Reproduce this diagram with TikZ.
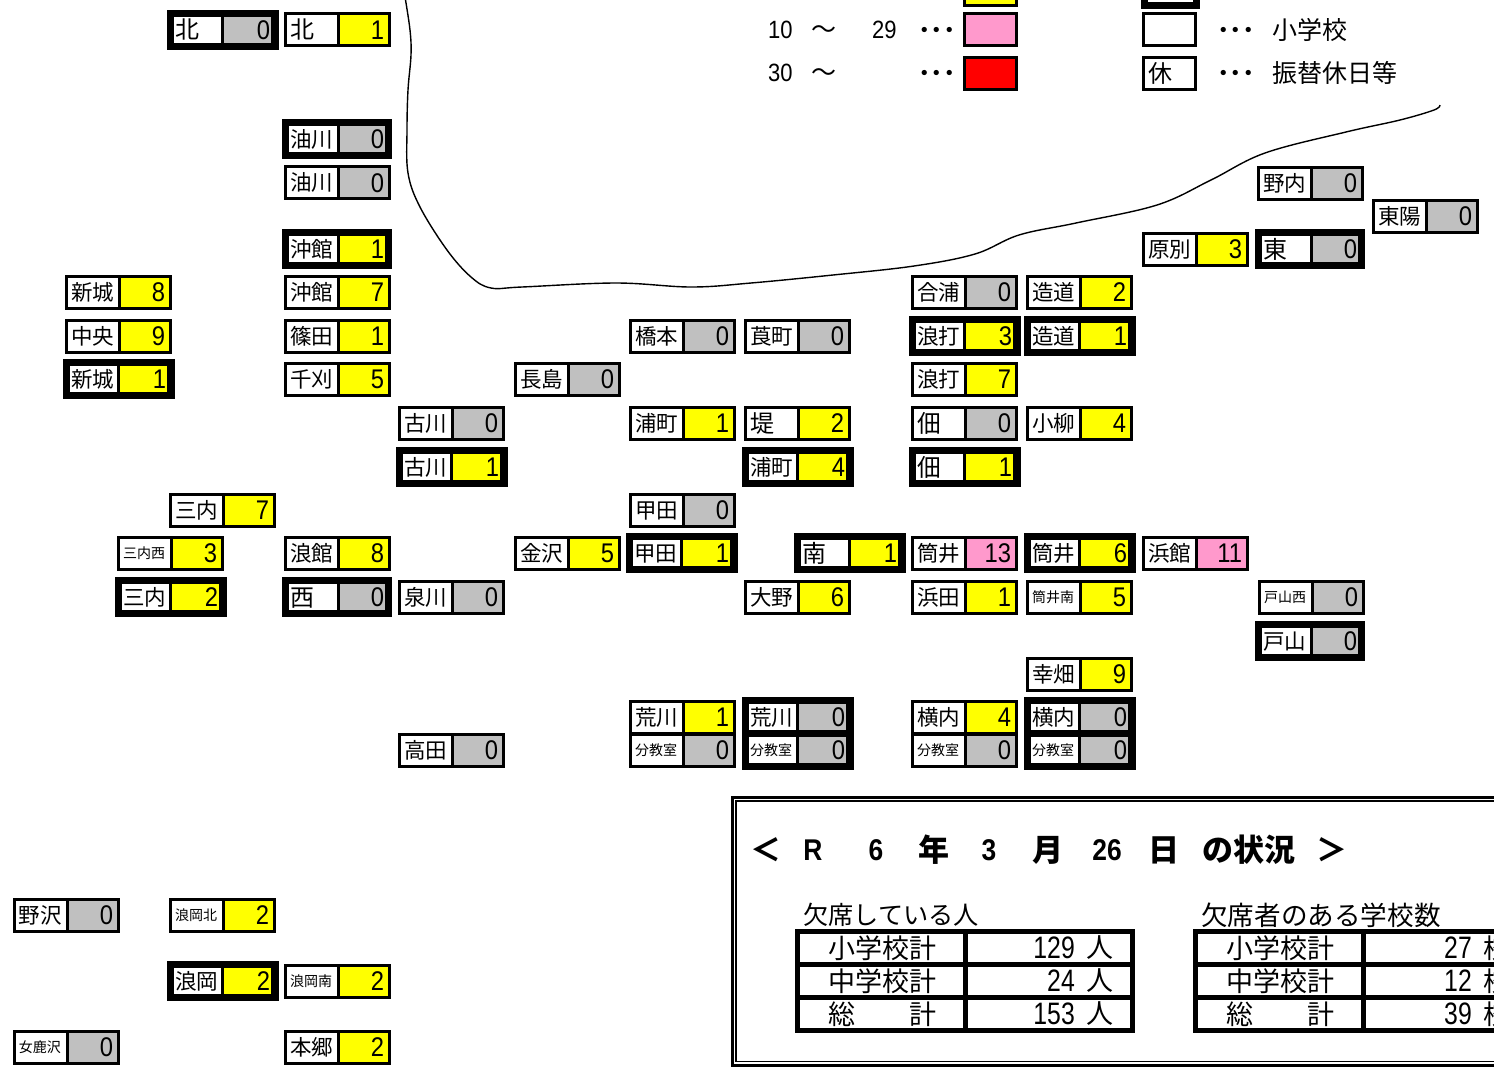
\documentclass[tikz,border=0pt]{standalone}
\usepackage{fontspec}
\setmainfont{Noto Sans CJK JP}
\newfontfamily\numfont[FakeStretch=0.88]{Liberation Sans}
\newfontfamily\rownumfont[FakeStretch=0.8]{Liberation Sans}
\definecolor{cellyellow}{RGB}{255,255,0}
\definecolor{cellgrey}{RGB}{192,192,192}
\definecolor{cellpink}{RGB}{255,153,204}
\definecolor{cellred}{RGB}{255,0,0}
\tikzset{
  thincell/.code={\def\cw{106.5}\def\ch{35}\def\ih{29}\def\nl{3}\def\nw{50}\def\nt{44pt}\def\ns{3pt}\def\vl{56}\def\vw{47.5}\def\vt{40.5pt}\def\vs{3.5pt}},
  thickcell/.code={\def\cw{111.5}\def\ch{40}\def\ih{26}\def\nl{7}\def\nw{47}\def\nt{45pt}\def\ns{1pt}\def\vl{57}\def\vw{47}\def\vt{45pt}\def\vs{1pt}},
  tightcell/.code={\def\cw{110}\def\ch{40}\def\ih{26}\def\nl{7}\def\nw{48}\def\nt{46pt}\def\ns{1pt}\def\vl{58}\def\vw{45}\def\vt{43pt}\def\vs{1pt}},
  cellframe/.style={fill=black,anchor=west,inner sep=0pt,outer sep=0pt},
  namecell/.style={fill=white,anchor=west,align=left,inner ysep=0pt,outer sep=0pt,text depth=0pt},
  valcell/.style={anchor=west,align=right,inner ysep=0pt,outer sep=0pt,text height=19.5pt,text depth=0pt,font=\numfont\fontsize{27}{28}\selectfont},
  nbig/.style={font=\fontsize{24}{26}\selectfont,text height=18pt},
  nmid/.style={font=\fontsize{21.5}{24}\selectfont,text height=16pt},
  nsmall/.style={font=\fontsize{14}{16}\selectfont,text height=11pt},
  keybox/.style={draw=black,line width=3pt,minimum width=52,minimum height=32,inner sep=0pt},
  keytext/.style={font=\fontsize{25}{27}\selectfont,anchor=west,inner sep=0pt},
  keydots/.style={font=\bfseries\fontsize{25}{27}\selectfont,anchor=west,inner sep=0pt},
  keynum/.style={font=\numfont\fontsize{25}{27}\selectfont,anchor=west,inner sep=0pt},
  titletext/.style={font=\bfseries\fontsize{31}{33}\selectfont,inner sep=0pt},
  titlenum/.style={font=\numfont\bfseries\fontsize{30}{32}\selectfont,inner sep=0pt},
  rowlabel/.style={font=\fontsize{27}{29}\selectfont,anchor=west,inner sep=0pt},
  rownum/.style={font=\rownumfont\fontsize{31}{33}\selectfont,anchor=east,inner sep=0pt},
  tableline/.style={draw=black,line width=5pt}
}
\newcommand{\schoolcell}[8]{%
  \tikzset{#1}
  \node[cellframe,minimum width=\cw,minimum height=\ch] (#2) at (#3,#4) {};
  \node[namecell,#5,minimum width=\nw,minimum height=\ih,text width=\nt,inner xsep=\ns] (#2n) at ([xshift=\nl]#2.west) {#6};
  \node[valcell,fill=#8,minimum width=\vw,minimum height=\ih,text width=\vt,inner xsep=\vs] (#2v) at ([xshift=\vl]#2.west) {#7};
}
\begin{document}
\begin{tikzpicture}[x=1pt,y=-1pt]
\useasboundingbox (0,0) rectangle (1494,1072);
\clip (0,0) rectangle (1494,1072);
\fill[white] (0,0) rectangle (1494,1072);

\draw[line width=1.4pt] plot[smooth,tension=0.6] coordinates {(405,-3) (410,30) (411,55) (408,90) (407,130) (408,173) (420,207) (447,250) (471,277) (491,288) (522,287) (616,283) (691,287) (751,283) (833,275) (914,266) (975,254) (1019,235) (1076,223) (1157,205) (1211,180) (1265,153) (1346,132) (1400,120) (1434,110) (1440,105)};

\foreach \id/\px/\py/\nf/\nm/\nv/\cl in {
  kita/284/29.5/nbig/北/1/cellyellow, aburakawa/284/182.5/nmid/油川/0/cellgrey,
  okidate/284/292/nmid/沖館/7/cellyellow, shinjo/65/292/nmid/新城/8/cellyellow,
  chuo/65/336/nmid/中央/9/cellyellow, shinoda/284/336/nmid/篠田/1/cellyellow,
  chikari/284/379/nmid/千刈/5/cellyellow, hashimoto/629/336/nmid/橋本/0/cellgrey,
  aoimachi/744/336/nmid/莨町/0/cellgrey, goura/911/292/nmid/合浦/0/cellgrey,
  tsukurimichi/1026/292/nmid/造道/2/cellyellow, nagashima/514/379/nmid/長島/0/cellgrey,
  namiuchi/911/379/nmid/浪打/7/cellyellow, furukawa/398/423/nmid/古川/0/cellgrey,
  uramachi/629/423/nmid/浦町/1/cellyellow, tsutsumi/744/423/nbig/堤/2/cellyellow,
  tsukuda/911/423/nbig/佃/0/cellgrey, koyanagi/1026/423/nmid/小柳/4/cellyellow,
  sannai/169/510/nmid/三内/7/cellyellow, koda/629/510/nmid/甲田/0/cellgrey,
  sannainishi/117/553/nsmall/三内西/3/cellyellow, namidate/284/553/nmid/浪館/8/cellyellow,
  kanazawa/514/553/nmid/金沢/5/cellyellow, tsutsui/911/553/nmid/筒井/13/cellpink,
  hamadate/1142/553/nmid/浜館/11/cellpink, izumikawa/398/597/nmid/泉川/0/cellgrey,
  ono/744/597/nmid/大野/6/cellyellow, hamada/911/597/nmid/浜田/1/cellyellow,
  tsutsuiminami/1026/597/nsmall/筒井南/5/cellyellow, toyamanishi/1258/597/nsmall/戸山西/0/cellgrey,
  kobata/1026/674/nmid/幸畑/9/cellyellow, arakawa/629/717/nmid/荒川/1/cellyellow,
  arakawab/629/750/nsmall/分教室/0/cellgrey, yokouchi/911/717/nmid/横内/4/cellyellow,
  yokouchib/911/750/nsmall/分教室/0/cellgrey, takada/398/750/nmid/高田/0/cellgrey,
  nonai/1257/183/nmid/野内/0/cellgrey, toyo/1372/216/nmid/東陽/0/cellgrey,
  harabetsu/1142/249/nmid/原別/3/cellyellow, nozawa/13/915/nmid/野沢/0/cellgrey,
  namiokakita/169/915/nsmall/浪岡北/2/cellyellow, namiokaminami/284/981/nsmall/浪岡南/2/cellyellow,
  omesawa/13/1047/nsmall/女鹿沢/0/cellgrey, hongo/284/1047/nmid/本郷/2/cellyellow}
  {\schoolcell{thincell}{\id}{\px}{\py}{\nf}{\nm}{\nv}{\cl}}

\foreach \id/\px/\py/\nf/\nm/\nv/\cl in {
  kitaj/167/29.5/nbig/北/0/cellgrey, shinjoj/63/379/nmid/新城/1/cellyellow,
  furukawaj/396/467/nmid/古川/1/cellyellow, uramachij/742/467/nmid/浦町/4/cellyellow,
  tsukudaj/909/467/nbig/佃/1/cellyellow, namiuchij/909/336/nmid/浪打/3/cellyellow,
  tsukurimichij/1024/336/nmid/造道/1/cellyellow, tsutsuij/1024/553/nmid/筒井/6/cellyellow,
  minamij/794/553/nbig/南/1/cellyellow, kodaj/626/553/nmid/甲田/1/cellyellow,
  sannaij/115/597/nmid/三内/2/cellyellow, arakawaj/742/717/nmid/荒川/0/cellgrey,
  arakawabj/742/750/nsmall/分教室/0/cellgrey, yokouchij/1024/717/nmid/横内/0/cellgrey,
  yokouchibj/1024/750/nsmall/分教室/0/cellgrey, namiokaj/167/981/nmid/浪岡/2/cellyellow}
  {\schoolcell{thickcell}{\id}{\px}{\py}{\nf}{\nm}{\nv}{\cl}}

\foreach \id/\px/\py/\nf/\nm/\nv/\cl in {
  aburakawaj/282/139/nmid/油川/0/cellgrey, okidatej/282/249/nmid/沖館/1/cellyellow,
  nishij/282/597/nbig/西/0/cellgrey, toyamaj/1255/641/nmid/戸山/0/cellgrey,
  higashij/1255/249/nbig/東/0/cellgrey}
  {\schoolcell{tightcell}{\id}{\px}{\py}{\nf}{\nm}{\nv}{\cl}}

\node[keybox,fill=cellyellow] (keya) at (990.5,-10.5) {};
\node[keybox,fill=cellpink] (keyb) at (990.5,29.5) {};
\node[keybox,fill=cellred] (keyc) at (990.5,73) {};
\node[keybox,line width=7pt,minimum height=30] (keyd) at (1170,-9.5) {};
\node[keybox] (keye) at (1169.5,29.5) {};
\node[keybox] (keyf) at (1169.5,73) {};
\node[keytext,font=\fontsize{24}{26}\selectfont] (keyrest) at (1148,73) {休};
\node[keynum] (numa) at (768,30) {10};
\node[keytext] (tildea) at (811,32) {～};
\node[keynum] (numb) at (872,30) {29};
\node[keydots] (dotsa) at (918,33) {･･･};
\node[keynum] (numc) at (768,73) {30};
\node[keytext] (tildeb) at (811,75) {～};
\node[keydots] (dotsb) at (918,76) {･･･};
\node[keydots] (dotsc) at (1217,33) {･･･};
\node[keydots] (dotsd) at (1217,76) {･･･};
\node[keytext] (keyelem) at (1272,29.5) {小学校};
\node[keytext] (keyholi) at (1272,73) {振替休日等};

\draw[line width=3pt] (732.5,797.5) rectangle (1530,1065.5);
\draw[line width=1.5pt] (736,801) rectangle (1530,1061.5);

\node[titletext] (ta) at (766,850) {＜};
\node[titlenum] (tb) at (813,850) {R};
\node[titlenum] (tc) at (876,850) {6};
\node[titletext] (td) at (934,850) {年};
\node[titlenum] (te) at (989,850) {3};
\node[titletext] (tf) at (1048,850) {月};
\node[titlenum] (tg) at (1107,850) {26};
\node[titletext] (th) at (1164,850) {日};
\node[titletext] (ti) at (1248.5,850) {の状況};
\node[titletext] (tj) at (1332,850) {＞};

\node[keytext,font=\fontsize{25.2}{27}\selectfont] (heada) at (803,915) {欠席している人};
\node[keytext,font=\fontsize{26.6}{28}\selectfont] (headb) at (1201,915) {欠席者のある学校数};

\foreach \tx/\tid in {0/a,398/b}
{
  \draw[tableline] (797.5+\tx,931.5) rectangle (1132.5+\tx,1030.5);
  \draw[tableline] (797.5+\tx,964.5) -- (1132.5+\tx,964.5);
  \draw[tableline] (797.5+\tx,997.5) -- (1132.5+\tx,997.5);
  \draw[tableline] (965+\tx,931.5) -- (965+\tx,1030.5);
}
\foreach \ry/\rid/\lab/\na/\nb in {948/e/小学校計/129/27,981/j/中学校計/24/12,1014/s/総　　計/153/39}
{
  \node[rowlabel] (la\rid) at (828,\ry) {\lab};
  \node[rownum] (na\rid) at (1075,\ry) {\na};
  \node[rowlabel] (ua\rid) at (1086,\ry) {人};
  \node[rowlabel] (lb\rid) at (1226,\ry) {\lab};
  \node[rownum] (nb\rid) at (1472,\ry) {\nb};
  \node[rowlabel] (ub\rid) at (1483,\ry) {校};
}
\end{tikzpicture}
\end{document}
